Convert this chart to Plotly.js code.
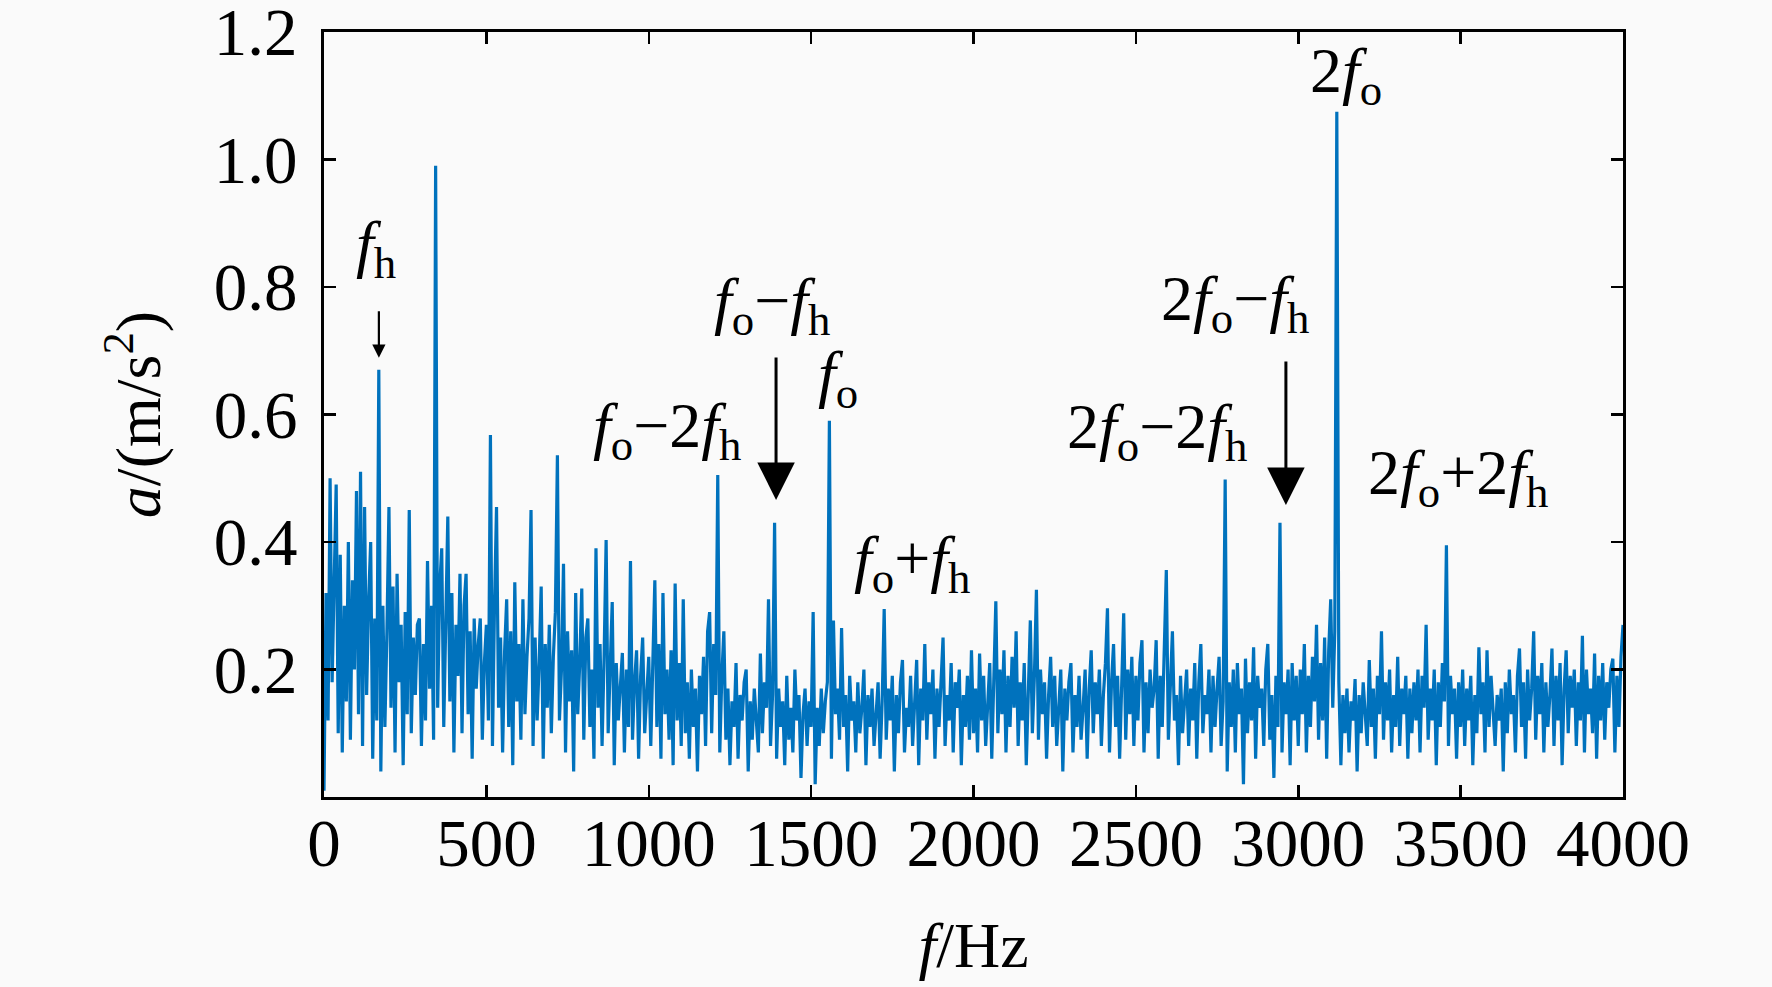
<!DOCTYPE html>
<html>
<head>
<meta charset="utf-8">
<script src="https://cdn.plot.ly/plotly-3.0.1.min.js"></script>
<style>html,body{margin:0;padding:0;background:#fafafa;}</style>
</head>
<body>
<div id="chart" style="width:1772px;height:987px;"></div>
<script>
// Frequency bin spacing (Hz) of the spectrum
const freqStep = 6.25;

// Amplitude a (m/s^2), one array per 500 Hz band
const amp0to500 = [0.01,0.32,0.12,0.50,0.18,0.36,0.49,0.10,0.38,0.07,0.30,0.15,0.40,0.09,0.34,0.20,0.48,0.13,0.51,0.08,
0.455,0.16,0.31,0.40,0.06,0.28,0.12,0.67,0.04,0.30,0.11,0.26,0.455,0.14,0.33,0.07,0.35,0.18,0.27,0.05,
0.29,0.13,0.45,0.10,0.25,0.16,0.27,0.28,0.08,0.24,0.12,0.37,0.17,0.30,0.09,0.99,0.14,0.33,0.39,0.11,
0.28,0.44,0.15,0.32,0.07,0.27,0.19,0.35,0.10,0.30,0.35,0.13,0.26,0.06,0.28,0.17,0.24,0.28,0.09,0.21];
const amp500to1000 = [0.27,0.12,0.568,0.08,0.30,0.455,0.14,0.25,0.07,0.23,0.31,0.11,0.26,0.05,0.337,0.15,0.24,0.09,0.31,0.13,
0.22,0.28,0.45,0.08,0.25,0.12,0.21,0.33,0.06,0.24,0.14,0.27,0.10,0.22,0.29,0.536,0.12,0.20,0.366,0.07,
0.26,0.15,0.23,0.04,0.32,0.13,0.21,0.327,0.09,0.25,0.28,0.11,0.20,0.06,0.39,0.14,0.24,0.08,0.22,0.403,
0.10,0.19,0.306,0.05,0.21,0.12,0.18,0.226,0.07,0.20,0.11,0.37,0.09,0.18,0.23,0.06,0.19,0.25,0.10,0.17];
const amp1000to1500 = [0.22,0.08,0.19,0.34,0.11,0.24,0.06,0.32,0.13,0.20,0.09,0.23,0.05,0.335,0.12,0.21,0.08,0.31,0.10,0.18,
0.06,0.20,0.11,0.17,0.04,0.19,0.13,0.22,0.08,0.26,0.29,0.10,0.24,0.16,0.505,0.07,0.19,0.26,0.09,0.17,
0.05,0.15,0.11,0.21,0.06,0.16,0.12,0.18,0.20,0.04,0.15,0.09,0.17,0.12,0.07,0.225,0.10,0.18,0.14,0.31,
0.08,0.16,0.43,0.06,0.17,0.11,0.15,0.05,0.19,0.09,0.14,0.07,0.20,0.12,0.16,0.03,0.13,0.17,0.08,0.15];
const amp1500to2000 = [0.11,0.29,0.02,0.14,0.08,0.17,0.10,0.15,0.18,0.59,0.06,0.277,0.13,0.17,0.09,0.265,0.11,0.16,0.04,0.19,
0.12,0.15,0.07,0.18,0.10,0.14,0.20,0.05,0.16,0.11,0.17,0.08,0.13,0.18,0.06,0.15,0.295,0.09,0.17,0.12,
0.19,0.04,0.16,0.10,0.18,0.215,0.07,0.14,0.11,0.19,0.08,0.16,0.215,0.05,0.17,0.12,0.24,0.09,0.18,0.13,
0.20,0.06,0.17,0.11,0.19,0.25,0.08,0.16,0.12,0.21,0.07,0.18,0.14,0.20,0.05,0.16,0.11,0.19,0.09,0.23];
const amp2000to2500 = [0.10,0.17,0.07,0.225,0.12,0.19,0.08,0.16,0.21,0.06,0.18,0.307,0.10,0.20,0.13,0.23,0.07,0.19,0.11,0.22,
0.14,0.26,0.08,0.18,0.12,0.21,0.05,0.17,0.277,0.10,0.19,0.325,0.09,0.20,0.13,0.18,0.06,0.16,0.22,0.11,
0.19,0.08,0.15,0.20,0.04,0.17,0.12,0.18,0.21,0.07,0.16,0.11,0.19,0.09,0.14,0.20,0.06,0.17,0.23,0.10,
0.18,0.13,0.20,0.08,0.16,0.21,0.296,0.07,0.18,0.24,0.11,0.19,0.06,0.17,0.288,0.09,0.20,0.13,0.22,0.08];
const amp2500to3000 = [0.19,0.12,0.21,0.246,0.07,0.18,0.10,0.20,0.14,0.17,0.246,0.06,0.19,0.11,0.22,0.356,0.09,0.18,0.26,0.12,
0.16,0.05,0.19,0.10,0.15,0.20,0.08,0.17,0.12,0.21,0.06,0.18,0.24,0.10,0.16,0.13,0.20,0.07,0.19,0.11,
0.17,0.22,0.08,0.15,0.498,0.04,0.18,0.11,0.20,0.07,0.21,0.13,0.17,0.02,0.217,0.10,0.18,0.12,0.235,0.06,
0.19,0.14,0.17,0.08,0.20,0.24,0.09,0.16,0.03,0.19,0.11,0.43,0.07,0.18,0.13,0.20,0.05,0.21,0.12,0.19];
const amp3000to3500 = [0.08,0.20,0.13,0.24,0.07,0.19,0.11,0.22,0.15,0.27,0.09,0.21,0.12,0.25,0.06,0.23,0.31,0.14,0.26,1.075,
0.18,0.05,0.16,0.10,0.17,0.07,0.15,0.12,0.185,0.04,0.16,0.10,0.18,0.13,0.08,0.215,0.11,0.17,0.06,0.19,
0.13,0.26,0.09,0.18,0.12,0.20,0.07,0.16,0.11,0.22,0.08,0.17,0.13,0.19,0.06,0.17,0.10,0.18,0.12,0.20,
0.07,0.19,0.14,0.27,0.09,0.17,0.12,0.20,0.05,0.18,0.11,0.21,0.15,0.395,0.08,0.19,0.13,0.17,0.06,0.18];
const amp3500to4000 = [0.11,0.20,0.08,0.17,0.12,0.19,0.05,0.16,0.10,0.235,0.13,0.18,0.07,0.23,0.11,0.19,0.14,0.08,0.16,0.12,
0.17,0.04,0.18,0.10,0.20,0.13,0.16,0.07,0.19,0.233,0.11,0.18,0.06,0.20,0.12,0.17,0.26,0.09,0.19,0.13,
0.21,0.07,0.18,0.11,0.16,0.233,0.08,0.19,0.12,0.21,0.05,0.17,0.23,0.10,0.19,0.14,0.20,0.08,0.18,0.12,
0.253,0.07,0.20,0.13,0.17,0.10,0.225,0.06,0.19,0.12,0.21,0.09,0.18,0.14,0.20,0.217,0.07,0.19,0.11,0.22,0.27];

// Axis tick labels
const yTickVals = [0.2, 0.4, 0.6, 0.8, 1.0, 1.2];
const yTickText = ['0.2', '0.4', '0.6', '0.8', '1.0', '1.2'];
const xTickVals = [0, 500, 1000, 1500, 2000, 2500, 3000, 3500, 4000];

// Peak labels: text, label position (Hz, a)
const labelTexts = ['<i>f</i><sub>h</sub>', '2<i>f</i><sub>o</sub>', '<i>f</i><sub>o</sub>−<i>f</i><sub>h</sub>',
  '<i>f</i><sub>o</sub>', '<i>f</i><sub>o</sub>−2<i>f</i><sub>h</sub>', '<i>f</i><sub>o</sub>+<i>f</i><sub>h</sub>',
  '2<i>f</i><sub>o</sub>−<i>f</i><sub>h</sub>', '2<i>f</i><sub>o</sub>−2<i>f</i><sub>h</sub>', '2<i>f</i><sub>o</sub>+2<i>f</i><sub>h</sub>'];
const labelFreq = [160, 3147, 1378, 1582, 1056, 1810, 2805, 2565, 3492];
const labelAmp  = [0.861, 1.133, 0.772, 0.657, 0.576, 0.367, 0.775, 0.574, 0.502];

// Arrows: tip position (Hz, a)
const arrowFreq = [169, 1392, 2962];
const arrowAmp  = [0.689, 0.466, 0.458];

const amp = [].concat(amp0to500, amp500to1000, amp1000to1500, amp1500to2000,
                      amp2000to2500, amp2500to3000, amp3000to3500, amp3500to4000);
const freq = amp.map((_, i) => i * freqStep);

const serif = 'Liberation Serif, Times New Roman, serif';
const fontSize = 64;
const tickFontSize = 67;

const annotations = [];
labelTexts.forEach((t, i) => {
  annotations.push({x: labelFreq[i], y: labelAmp[i], xref: 'x', yref: 'y', text: t, showarrow: false,
    font: {family: serif, size: fontSize, color: '#000'}});
});
const arrowStyle = [
  {ay: -48, arrowwidth: 2.2, arrowsize: 1.2},
  {ay: -144, arrowwidth: 3, arrowsize: 2.5},
  {ay: -145, arrowwidth: 3, arrowsize: 2.5}
];
arrowFreq.forEach((f, i) => {
  annotations.push({x: f, y: arrowAmp[i], xref: 'x', yref: 'y', text: '', showarrow: true,
    ax: 0, ay: arrowStyle[i].ay, arrowhead: 2, arrowwidth: arrowStyle[i].arrowwidth,
    arrowsize: arrowStyle[i].arrowsize, arrowcolor: '#000', standoff: 0});
});

const trace = {x: freq, y: amp, type: 'scatter', mode: 'lines',
  line: {color: '#0072BD', width: 3.2}, hoverinfo: 'skip'};

const axisCommon = {showline: true, linecolor: '#000', linewidth: 3, mirror: 'ticks',
  ticks: 'inside', ticklen: 12, tickwidth: 2.5, tickcolor: '#000', showgrid: false, zeroline: false,
  ticklabeloverflow: 'allow',
  tickfont: {family: serif, size: tickFontSize, color: '#000'}};

const layout = {
  width: 1772, height: 987,
  paper_bgcolor: '#fafafa', plot_bgcolor: '#fafafa',
  margin: {l: 324, r: 149, t: 32, b: 190},
  showlegend: false,
  xaxis: Object.assign({}, axisCommon, {range: [0, 4000], tickvals: xTickVals, ticklabelstandoff: -14,
    title: {text: '<i>f</i>/Hz', font: {family: serif, size: fontSize, color: '#000'}, standoff: 43}}),
  yaxis: Object.assign({}, axisCommon, {range: [0, 1.20001], tickvals: yTickVals, ticktext: yTickText,
    ticklabelstandoff: 10,
    title: {text: '<i>a</i>/(m/s<sup>2</sup>)', font: {family: serif, size: fontSize, color: '#000'}, standoff: 33}}),
  annotations: annotations
};

Plotly.newPlot('chart', [trace], layout, {staticPlot: true, displayModeBar: false});
</script>
</body>
</html>
